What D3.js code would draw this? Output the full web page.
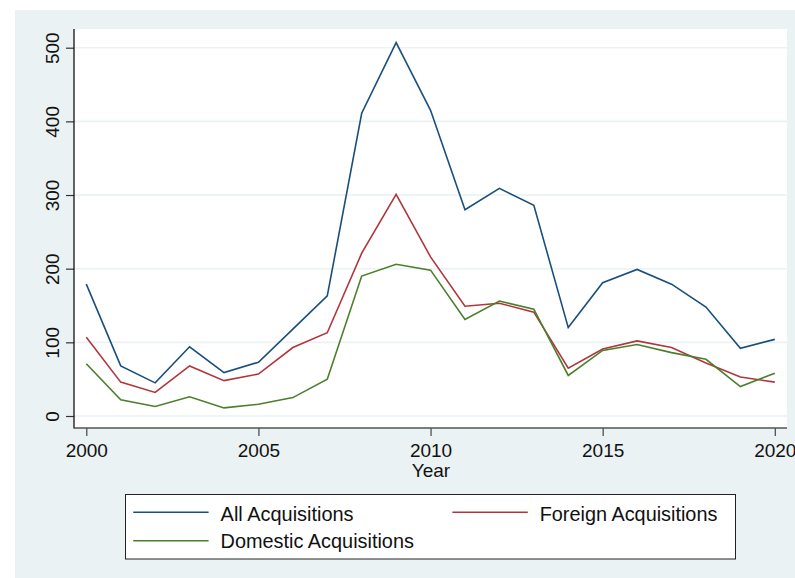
<!DOCTYPE html>
<html>
<head>
<meta charset="utf-8">
<script src="https://cdn.jsdelivr.net/npm/d3@7"></script>
<style>
  html, body { margin: 0; padding: 0; background: #ffffff; }
  svg { display: block; font-family: "Liberation Sans", Arial, Helvetica, sans-serif; }
</style>
</head>
<body>
<svg id="chart" width="795" height="578"></svg>
<script>
const years = [2000,2001,2002,2003,2004,2005,2006,2007,2008,2009,2010,2011,2012,2013,2014,2015,2016,2017,2018,2019,2020];
const allAcq      = [179, 68, 45, 94, 59, 73, 118, 163, 411, 507, 415, 280, 309, 286, 120, 181, 199, 179, 148, 92, 104];
const foreignAcq  = [107, 46, 32, 68, 48, 57, 93, 113, 221, 301, 216, 149, 153, 141, 65, 91, 102, 93, 72, 53, 46];
const domesticAcq = [71, 22, 13, 26, 11, 16, 25, 50, 190, 206, 198, 131, 156, 145, 55, 89, 97, 86, 77, 40, 58];
const yTicks = [0, 100, 200, 300, 400, 500];
const xTicks = [2000, 2005, 2010, 2015, 2020];
const seriesNames = ["All Acquisitions", "Foreign Acquisitions", "Domestic Acquisitions"];
const seriesColors = ["#1a4f7c", "#b0363e", "#4b7f2a"];

const svg = d3.select("#chart");
const bg = "#eaf2f3";

// outer graph region
svg.append("rect").attr("x", 15).attr("y", 10).attr("width", 780).attr("height", 568).attr("fill", bg);

// plot region
const L = 74, R = 787, T = 29, B = 428;
svg.append("rect").attr("x", L).attr("y", T).attr("width", R - L).attr("height", B - T).attr("fill", "#ffffff");

const x = d3.scaleLinear().domain([2000, 2020]).range([86.3, 774.8]);
const y = d3.scaleLinear().domain([0, 500]).range([416, 47.7]);

// gridlines
svg.append("g").selectAll("line").data(yTicks).join("line")
  .attr("x1", L).attr("x2", R)
  .attr("y1", d => y(d)).attr("y2", d => y(d))
  .attr("stroke", bg).attr("stroke-width", 1.6);

// series lines
const series = [allAcq, foreignAcq, domesticAcq];
const line = d3.line().x((d, i) => x(years[i])).y(d => y(d));
series.forEach((s, k) => {
  svg.append("path").datum(s)
    .attr("d", line)
    .attr("fill", "none")
    .attr("stroke", seriesColors[k])
    .attr("stroke-width", 1.6)
    .attr("stroke-linejoin", "miter");
});

// Y axis
const yAxis = svg.append("g").attr("transform", `translate(${L},0)`)
  .call(d3.axisLeft(y).tickValues(yTicks).tickSize(8).tickFormat(d3.format("d")));
yAxis.select(".domain").remove();
yAxis.selectAll(".tick line").attr("stroke", "#333").attr("stroke-width", 1.2);
yAxis.selectAll(".tick text")
  .attr("transform", "rotate(-90)")
  .attr("x", 0).attr("y", -15.5).attr("dy", 0)
  .attr("text-anchor", "middle")
  .attr("font-size", 19).attr("fill", "#111")
  .style("font-family", "'Liberation Sans', Arial, sans-serif");
svg.append("line").attr("x1", L).attr("x2", L).attr("y1", T).attr("y2", B + 0.5)
  .attr("stroke", "#111").attr("stroke-width", 1.3);

// X axis
const xAxis = svg.append("g").attr("transform", `translate(0,${B})`)
  .call(d3.axisBottom(x).tickValues(xTicks).tickSize(8).tickFormat(d3.format("d")));
xAxis.select(".domain").remove();
xAxis.selectAll(".tick line").attr("stroke", "#444").attr("stroke-width", 1.2);
xAxis.selectAll(".tick text")
  .attr("y", 28.7).attr("dy", 0)
  .attr("font-size", 19).attr("fill", "#111")
  .style("font-family", "'Liberation Sans', Arial, sans-serif");
svg.append("line").attr("x1", L).attr("x2", R).attr("y1", B).attr("y2", B)
  .attr("stroke", "#555").attr("stroke-width", 1.5);

// axis title
svg.append("text").attr("x", 431).attr("y", 477.3)
  .attr("text-anchor", "middle").attr("font-size", 19).attr("fill", "#111")
  .text("Year");

// legend
svg.append("rect").attr("x", 125.5).attr("y", 494.5).attr("width", 610).attr("height", 64.5)
  .attr("fill", "#ffffff").attr("stroke", "#222").attr("stroke-width", 1);
const legendItems = [
  { name: seriesNames[0], color: seriesColors[0], lx: 133.2, ly: 512.3, tx: 220.6, ty: 520.7, w: 133 },
  { name: seriesNames[1], color: seriesColors[1], lx: 452.4, ly: 512.3, tx: 539.7, ty: 520.7, w: 177.7 },
  { name: seriesNames[2], color: seriesColors[2], lx: 133.2, ly: 540.7, tx: 220.6, ty: 548.3, w: 193.3 }
];
const lg = svg.append("g").selectAll("g").data(legendItems).join("g");
lg.append("line")
  .attr("x1", d => d.lx).attr("x2", d => d.lx + 75.4)
  .attr("y1", d => d.ly).attr("y2", d => d.ly)
  .attr("stroke", d => d.color).attr("stroke-width", 1.6);
lg.append("text")
  .attr("x", d => d.tx).attr("y", d => d.ty)
  .attr("font-size", 19.5).attr("fill", "#111")
  .attr("textLength", d => d.w).attr("lengthAdjust", "spacingAndGlyphs")
  .text(d => d.name);
</script>
</body>
</html>
